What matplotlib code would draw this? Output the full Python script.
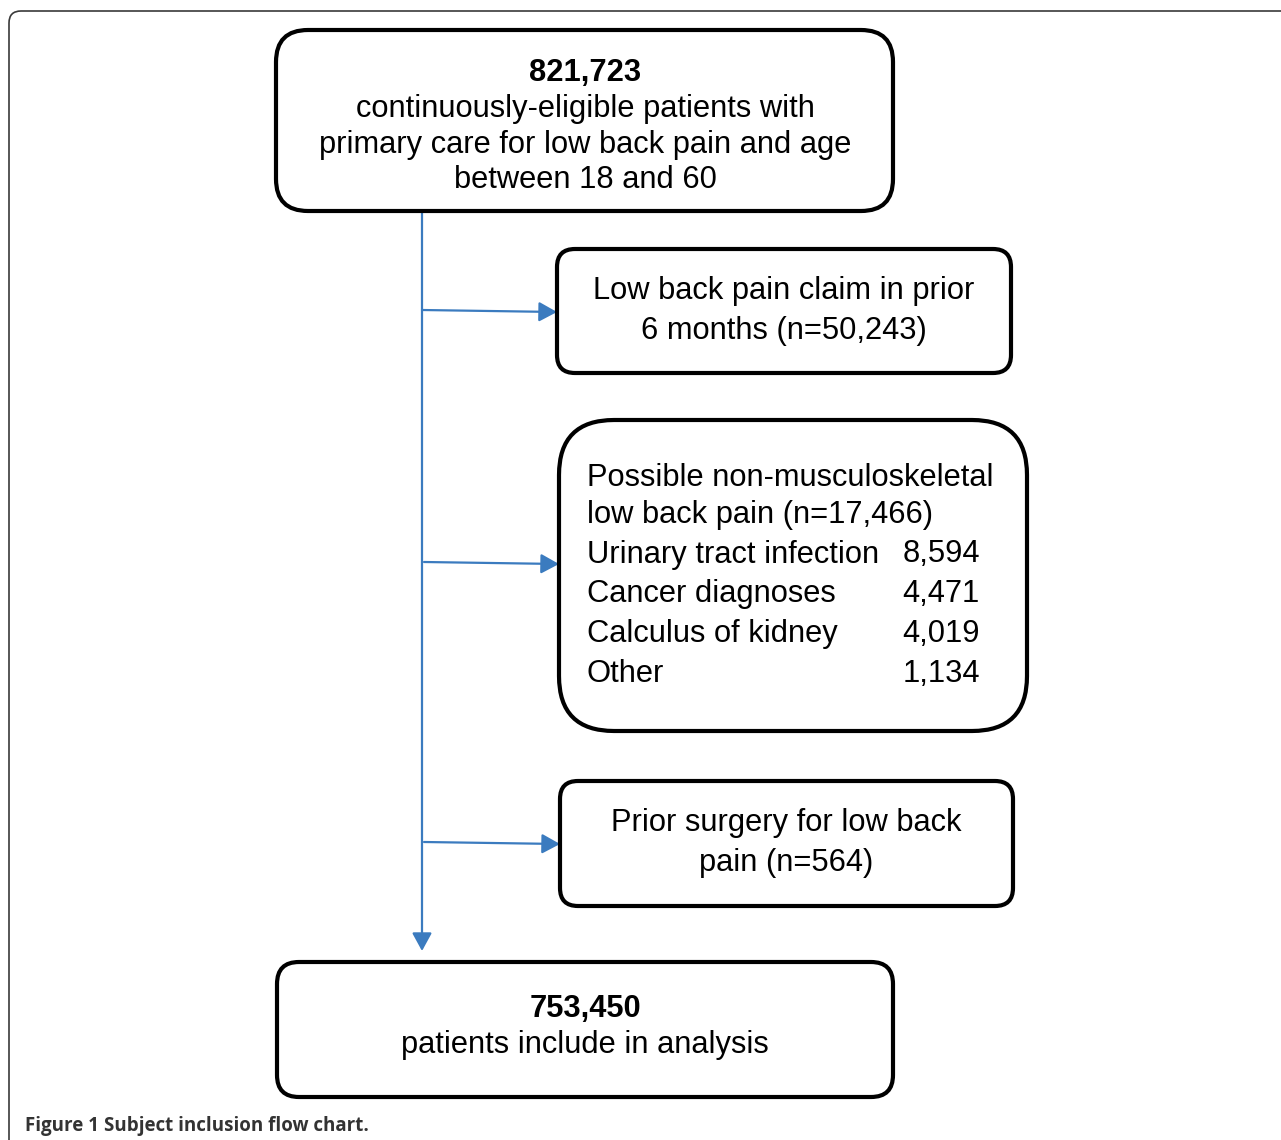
import matplotlib
matplotlib.use("Agg")
import matplotlib.pyplot as plt
from matplotlib.patches import FancyBboxPatch, FancyArrowPatch

# ---- data ----
top_count = "821,723"
top_lines = ["continuously-eligible patients with",
             "primary care for low back pain and age",
             "between 18 and 60"]
excl1_lines = ["Low back pain claim in prior", "6 months (n=50,243)"]
excl2_header = ["Possible non-musculoskeletal", "low back pain (n=17,466)"]
excl2_categories = ["Urinary tract infection", "Cancer diagnoses", "Calculus of kidney", "Other"]
excl2_values = ["8,594", "4,471", "4,019", "1,134"]
excl3_lines = ["Prior surgery for low back", "pain (n=564)"]
final_count = "753,450"
final_lines = ["patients include in analysis"]
caption_bold = "Figure 1"
caption_rest = "Subject inclusion flow chart."

W, H = 1281, 1140
fig = plt.figure(figsize=(W / 100, H / 100), dpi=100)
ax = fig.add_axes([0, 0, 1, 1])
ax.set_xlim(0, W)
ax.set_ylim(H, 0)
ax.axis("off")

FONT = "Liberation Sans"
FS = 22.2
BLUE = "#3b7bbf"
LW = 3.0

# outer frame
frame = FancyBboxPatch((9, 11), 1400, 1300, boxstyle="round,pad=0,rounding_size=12",
                       fc="white", ec="#3a3a3a", lw=1.2)
ax.add_patch(frame)

def box(x0, y0, x1, y1, r):
    p = FancyBboxPatch((x0, y0), x1 - x0, y1 - y0,
                       boxstyle=f"round,pad=0,rounding_size={r}",
                       fc="white", ec="black", lw=LW, zorder=3)
    ax.add_patch(p)

# boxes
box(276, 30, 893, 211, 32)
box(557, 249, 1011, 373, 18)
box(559, 420, 1027, 731, 55)
box(560, 781, 1013, 906, 18)
box(277, 962, 893, 1097, 22)

dy = 2.5
# top box text
ax.text(585, 71 + dy, top_count, ha="center", va="center", fontsize=FS,
        fontweight="bold", family=FONT, zorder=4)
for i, s in enumerate(top_lines):
    ax.text(585, 107 + dy + 35.5 * i, s, ha="center", va="center", fontsize=FS,
            family=FONT, zorder=4)

# exclusion 1
for i, s in enumerate(excl1_lines):
    ax.text(784, 288 + dy + 40 * i, s, ha="center", va="center", fontsize=FS,
            family=FONT, zorder=4)

# exclusion 2
for i, s in enumerate(excl2_header):
    ax.text(587, 476 + dy + 36 * i, s, ha="left", va="center", fontsize=FS,
            family=FONT, zorder=4)
for i, (c, v) in enumerate(zip(excl2_categories, excl2_values)):
    y = 552 + dy + 39.7 * i
    ax.text(587, y, c, ha="left", va="center", fontsize=FS, family=FONT, zorder=4)
    ax.text(941, y, v, ha="center", va="center", fontsize=FS, family=FONT, zorder=4)

# exclusion 3
for i, s in enumerate(excl3_lines):
    ax.text(786, 820 + dy + 40 * i, s, ha="center", va="center", fontsize=FS,
            family=FONT, zorder=4)

# final box
ax.text(585, 1007 + dy, final_count, ha="center", va="center", fontsize=FS,
        fontweight="bold", family=FONT, zorder=4)
for i, s in enumerate(final_lines):
    ax.text(585, 1043 + dy + 35.5 * i, s, ha="center", va="center", fontsize=FS,
            family=FONT, zorder=4)

# arrows
def arrow(p0, p1):
    a = FancyArrowPatch(p0, p1, arrowstyle="-|>,head_length=1.1,head_width=0.6",
                        mutation_scale=10, color=BLUE, lw=1.6, shrinkA=0, shrinkB=0,
                        zorder=2)
    ax.add_patch(a)

arrow((422, 212), (422, 951))
arrow((422, 310), (557, 312))
arrow((424, 562), (559, 564))
arrow((424, 842), (560, 844))

# caption
t1 = ax.text(25, 1126, caption_bold + " ", ha="left", va="center", fontsize=13.5,
             fontweight="bold", family="Open Sans", color="#333333")
fig.canvas.draw()
bb = t1.get_window_extent()
x_next = ax.transData.inverted().transform((bb.x1, bb.y0))[0]
ax.text(x_next, 1126, caption_rest, ha="left", va="center", fontsize=13.5,
        fontweight="bold", family="Open Sans", color="#333333")

fig.savefig("out.png", dpi=100)
